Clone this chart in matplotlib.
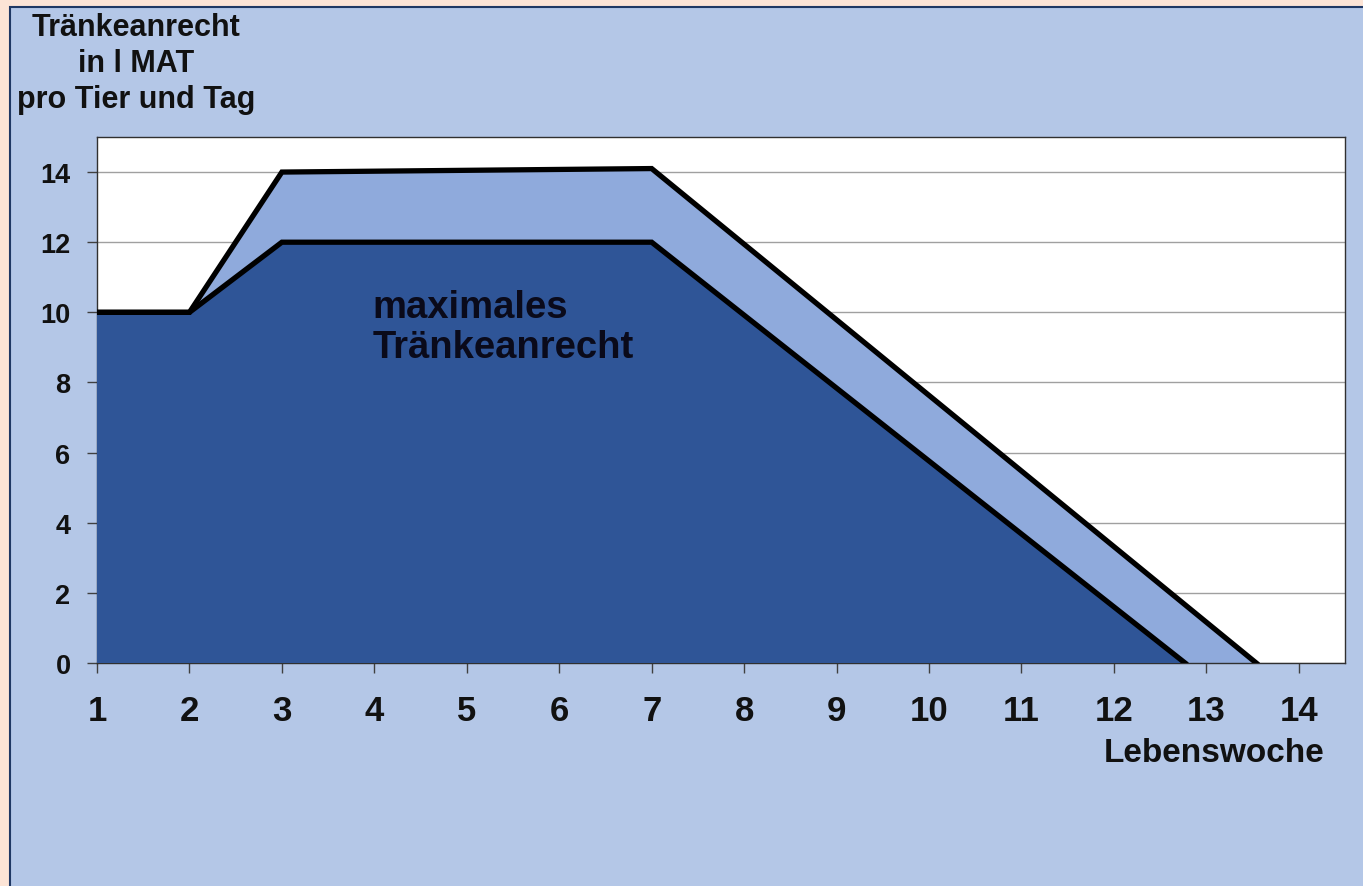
import matplotlib.pyplot as plt
from matplotlib.patches import Rectangle

# Data
weeks_lower = [1, 2, 3, 7, 12.77]
lower = [10, 10, 12, 12, 0]
weeks_upper = [1, 2, 3, 7, 13.54]
upper = [10, 10, 14, 14.1, 0]
x_ticks = list(range(1, 15))
y_ticks = list(range(0, 15, 2))

dark = '#2F5597'
light = '#8FAADC'
panel = '#B4C7E7'
peach = '#FCE4D6'

plt.rcParams['font.family'] = ['Liberation Sans', 'DejaVu Sans']
plt.rcParams['font.weight'] = 'bold'

fig = plt.figure(figsize=(13.63, 8.87), dpi=100)
fig.patch.set_facecolor(peach)
# blue panel with dark top/left border
fig.patches.append(Rectangle((10 / 1363, -0.1), 1.2, 0.1 + (887 - 8) / 887,
                             transform=fig.transFigure, facecolor=panel,
                             edgecolor='#1F3864', linewidth=1.5, zorder=-5))

ax = fig.add_axes([97 / 1363, 1 - 664 / 887, (1345 - 97) / 1363, (664 - 138) / 887])
ax.set_zorder(2)
ax.set_facecolor('white')

# filled areas
ax.fill(weeks_upper + [weeks_upper[0]], upper + [0], color=light, zorder=2, lw=0)
ax.fill(weeks_lower + [weeks_lower[0]], lower + [0], color=dark, zorder=3, lw=0)
ax.plot(weeks_upper, upper, color='black', lw=3.8, zorder=4, solid_joinstyle='miter')
ax.plot(weeks_lower, lower, color='black', lw=3.8, zorder=4, solid_joinstyle='miter')

ax.set_xlim(1, 14.5)
ax.set_ylim(0, 15)
ax.set_xticks(x_ticks)
ax.set_yticks(y_ticks)
ax.yaxis.grid(True, color='#A0A0A0', lw=1)
ax.set_axisbelow(True)
ax.tick_params(axis='x', length=7, width=1, color='#404040', pad=15, labelsize=25)
ax.tick_params(axis='y', length=7, width=1, color='#404040', pad=12, labelsize=19.5)
for lab in ax.get_xticklabels() + ax.get_yticklabels():
    lab.set_fontweight('bold')
    lab.set_color('#111111')
for s in ax.spines.values():
    s.set_color('#303030')
    s.set_linewidth(1)

ax.text(3.98, 9.58, 'maximales\nTränkeanrecht', fontsize=27.5, fontweight='bold',
        color='#0A0A1A', ha='left', va='center', linespacing=1.12, zorder=5)

fig.text(136 / 1363, 1 - 64 / 887, 'Tränkeanrecht\nin l MAT\npro Tier und Tag',
         ha='center', va='center', fontsize=22, fontweight='bold',
         color='#111111', linespacing=1.25)
fig.text(1325 / 1363, 1 - 754 / 887, 'Lebenswoche', ha='right', va='center',
         fontsize=24, fontweight='bold', color='#111111')

fig.savefig('out.png', dpi=100, facecolor=fig.get_facecolor())
